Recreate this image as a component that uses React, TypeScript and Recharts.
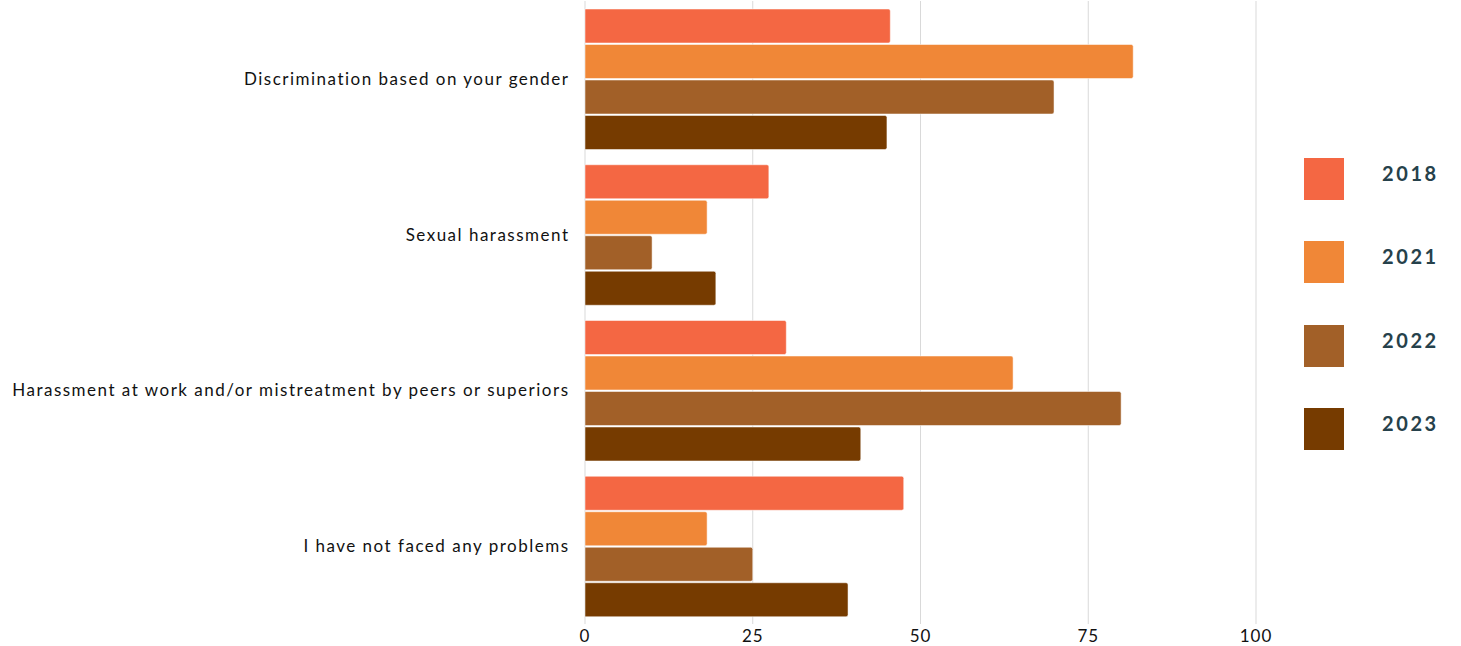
import React from "react";
import { BarChart, Bar, XAxis, YAxis, CartesianGrid, Legend } from "recharts";

const categories = [
  "Discrimination based on your gender",
  "Sexual harassment",
  "Harassment at work and/or mistreatment by peers or superiors",
  "I have not faced any problems",
];
const values2018 = [45.5, 27.4, 30.0, 47.5];
const values2021 = [81.7, 18.2, 63.8, 18.2];
const values2022 = [69.9, 10.0, 79.9, 25.0];
const values2023 = [45.0, 19.5, 41.1, 39.2];
const seriesNames = ["2018", "2021", "2022", "2023"];
const seriesColors = ["#F46743", "#F08737", "#A26028", "#763B00"];
const xTicks = [0, 25, 50, 75, 100];

const data = categories.map((c, i) => ({
  category: c,
  "2018": values2018[i],
  "2021": values2021[i],
  "2022": values2022[i],
  "2023": values2023[i],
}));

const FONT = "Lato, 'Noto Sans', sans-serif";

const LegendContent = () => (
  <div style={{ fontFamily: FONT }}>
    {seriesNames.map((n, i) => (
      <div
        key={n}
        style={{ display: "flex", alignItems: "center", height: 42, marginBottom: i < 3 ? 41.3 : 0 }}
      >
        <div style={{ width: 40, height: 42, background: seriesColors[i] }} />
        <div
          style={{
            marginLeft: 38,
            fontSize: 20,
            fontWeight: 700,
            color: "#26414B",
            letterSpacing: 2.6,
            position: "relative",
            top: -6,
          }}
        >
          {n}
        </div>
      </div>
    ))}
  </div>
);

export default function App() {
  return (
    <div style={{ position: "absolute", left: 0, top: 0, width: 1461, height: 646, background: "#fff" }}>
      <BarChart
        width={1461}
        height={646}
        data={data}
        layout="vertical"
        margin={{ top: 1, right: 205, bottom: 0, left: 0 }}
        barGap={1.5}
        barCategoryGap={8}
      >
        <CartesianGrid horizontal={false} vertical={true} stroke="#D9D9D9" />
        <XAxis
          type="number"
          domain={[0, 100]}
          ticks={xTicks}
          height={22}
          tickSize={0}
          tickMargin={6}
          axisLine={false}
          tickLine={false}
          tick={{ fontSize: 17, fill: "#111", fontFamily: FONT, letterSpacing: 1 }}
        />
        <YAxis
          type="category"
          dataKey="category"
          width={585}
          tickSize={0}
          tickMargin={15.5}
          axisLine={false}
          tickLine={false}
          tick={{ fontSize: 17, fill: "#111", fontFamily: FONT, letterSpacing: 1.5 }}
        />
        <Legend
          layout="vertical"
          align="center"
          verticalAlign="middle"
          content={<LegendContent />}
          wrapperStyle={{ left: 1304, top: 158, width: 157 }}
        />
        {seriesNames.map((n, i) => (
          <Bar
            key={n}
            dataKey={n}
            fill={seriesColors[i]}
            stroke="rgba(255,255,255,0.5)"
            strokeWidth={1}
            radius={[0, 2, 2, 0]}
            isAnimationActive={false}
          />
        ))}
      </BarChart>
    </div>
  );
}
